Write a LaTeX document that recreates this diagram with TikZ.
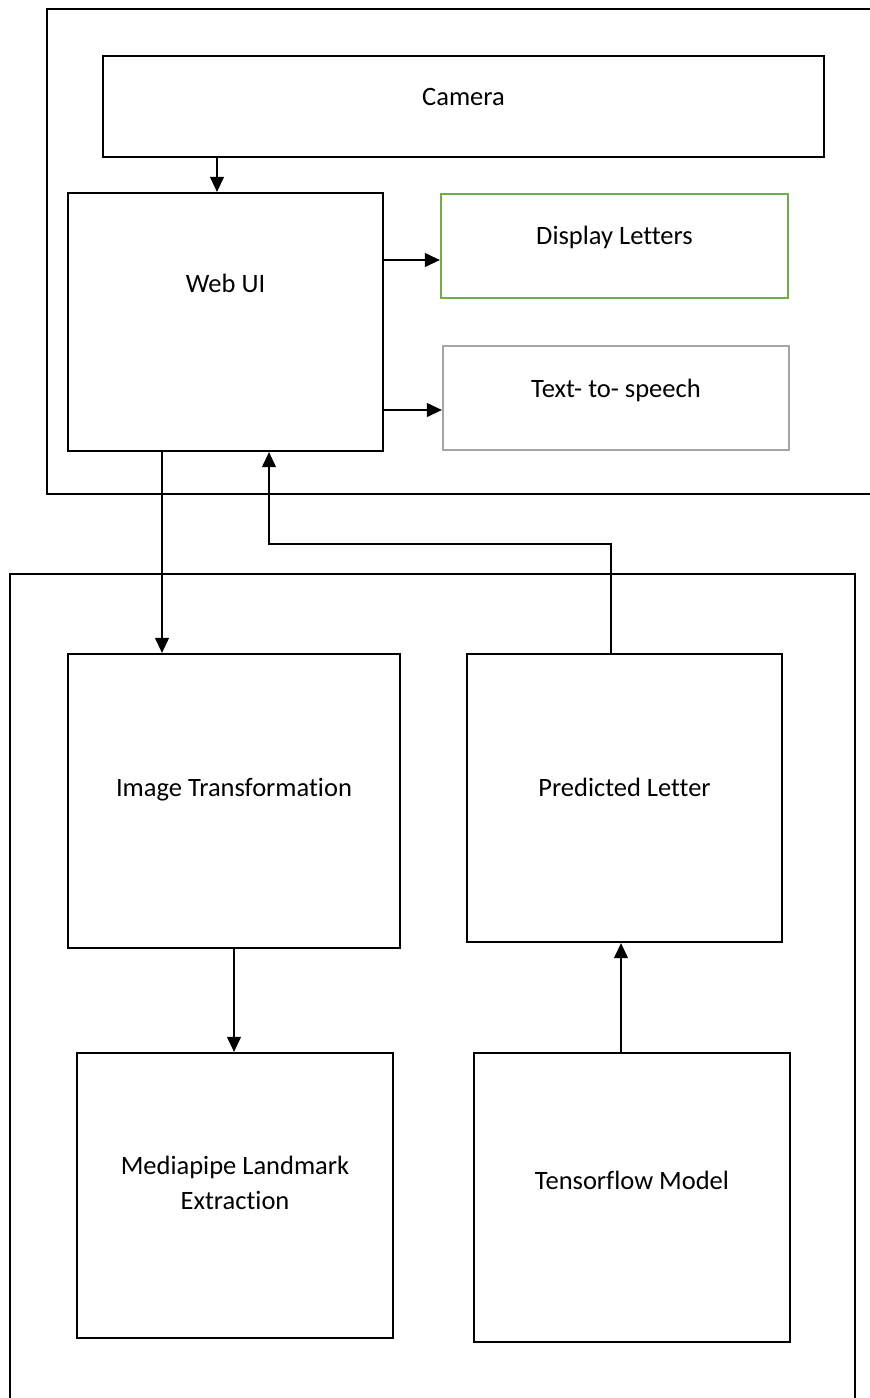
\documentclass[tikz,border=0pt]{standalone}
\usepackage{fontspec}
\setmainfont{Carlito}[Ligatures=NoCommon]
\usepackage{xcolor}
\usepackage{tikz}
\usetikzlibrary{arrows.meta}

\definecolor{boxgreen}{HTML}{70AD47}
\definecolor{boxgray}{HTML}{A5A5A5}

\begin{document}
\begin{tikzpicture}[x=1pt, y=-1pt,
    font=\fontsize{26.5}{35}\selectfont,
    box/.style={draw, line width=2.3pt, inner sep=0pt, align=center},
    outer/.style={draw, line width=2.6pt},
    arr/.style={line width=1.2pt, -{Triangle[length=15pt, width=14pt]}}]
    \clip (0,0) rectangle (870,1398);

    % containers
    \draw[outer] (47,9) rectangle (900,494);
    \draw[outer] (10,574) rectangle (855,1420);

    \node[box, minimum width=721pt, minimum height=101pt, label={[yshift=10pt]center:Camera}] (cam) at (463.5,106.5) {};
    \node[box, minimum width=315pt, minimum height=258pt, label={[yshift=39pt]center:Web UI}] (webui) at (225.5,322) {};
    \node[box, draw=boxgreen, minimum width=347pt, minimum height=104pt, label={[yshift=9pt]center:Display Letters}] (disp) at (614.5,246) {};
    \node[box, draw=boxgray, minimum width=346pt, minimum height=104pt, label={[yshift=8pt]center:Text- to- speech}] (tts) at (616,398) {};

    \node[box, minimum width=332pt, minimum height=294pt, label={[yshift=11pt]center:Image Transformation}] (imgtr) at (234,801) {};
    \node[box, minimum width=315pt, minimum height=288pt, label={[yshift=11pt]center:Predicted Letter}] (pred) at (624.5,798) {};
    \node[box, minimum width=316pt, minimum height=285pt, label={[yshift=13pt, align=center]center:Mediapipe Landmark\\Extraction}] (media) at (235,1195.5) {};
    \node[box, minimum width=316pt, minimum height=289pt, label={[yshift=17pt]center:Tensorflow Model}] (tensor) at (632,1197.5) {};

    \coordinate (bend) at (269,544);

    \draw[arr] ([xshift=-8.5pt]webui.north |- cam.south) -- ([xshift=-8.5pt]webui.north);
    \draw[arr] ([yshift=-14pt]disp.west -| webui.east) -- ([yshift=-14pt]disp.west);
    \draw[arr] ([yshift=-12pt]tts.west -| webui.east) -- ([yshift=-12pt]tts.west);
    \draw[arr] ([xshift=-63.5pt]webui.south) -- ([xshift=-63.5pt]webui.south |- imgtr.north);
    \draw[arr] ([xshift=-13.5pt]pred.north) |- (bend) -- (webui.south -| bend);
    \draw[arr] (imgtr.south) -- (imgtr.south |- media.north);
    \draw[arr] ([xshift=-11pt]tensor.north) -- ([xshift=-11pt]tensor.north |- pred.south);
\end{tikzpicture}
\end{document}
